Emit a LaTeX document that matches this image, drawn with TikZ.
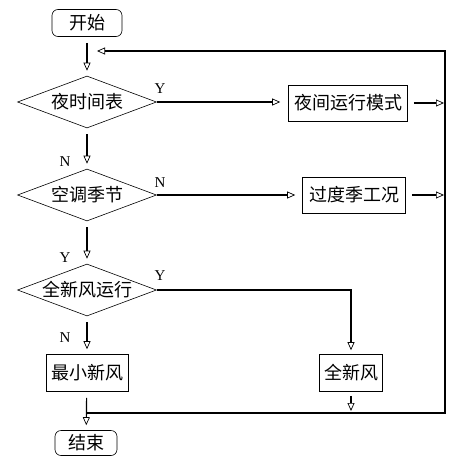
\documentclass[tikz,border=0pt]{standalone}
\usepackage{fontspec}
\setmainfont{Liberation Serif}
\newfontfamily\cjk{Noto Sans CJK SC}
\usetikzlibrary{shapes.geometric,arrows.meta,positioning}
\tikzset
{
    startstop/.style = {rectangle, rounded corners=6pt, draw=black, line width=0.6pt, align=center, font=\cjk\fontsize{18}{20}\selectfont},
    process/.style = {rectangle, draw=black, line width=0.6pt, align=center, minimum height=36pt, font=\cjk\fontsize{18}{20}\selectfont},
    decision/.style = {diamond, aspect=2.67, draw=black, line width=0.6pt, minimum width=139pt, minimum height=52pt, inner sep=0pt, font=\cjk\fontsize{18}{20}\selectfont},
    yn/.style = {font=\fontsize{15}{17}\selectfont},
    flow/.style = {line width=1.2pt, -{Triangle[open, line width=0.7pt, length=8pt, width=7pt]}, shorten <=6pt, shorten >=5pt}
}

\begin{document}
\begin{tikzpicture}[x=1pt, y=-1pt]
		\useasboundingbox (0,0) rectangle (468,466);
		% nodes
		\node[startstop, minimum width=70pt, minimum height=27pt] (start) at (87,23) {开始};
		\node[decision] (night) at (87,102) {夜时间表};
		\node[process, minimum width=119pt] (nightmode) at (348,103) {夜间运行模式};
		\node[decision] (season) at (87,195) {空调季节};
		\node[process, minimum width=103pt] (transit) at (354,195) {过度季工况};
		\node[decision] (fresh) at (87,290) {全新风运行};
		\node[process, minimum width=82pt, minimum height=37pt] (minfresh) at (87,373) {最小新风};
		\node[process, minimum width=63pt, minimum height=37pt] (allfresh) at (351,373) {全新风};
		\node[startstop, minimum width=62pt, minimum height=25pt] (stop) at (86,443) {结束};
		% labels
		\node[yn] (nightY) at (160,89) {Y};
		\node[yn] (seasonN1) at (65,162) {N};
		\node[yn] (seasonN2) at (160,183) {N};
		\node[yn] (freshY1) at (65,258) {Y};
		\node[yn] (freshY2) at (160,276) {Y};
		\node[yn] (freshN) at (65,338) {N};
		% loop corners
		\coordinate (tl) at (87,51);
		\coordinate (tr) at (445,51);
		\coordinate (br) at (445,413);
		\coordinate (bl) at (87,413);
		% connectors
		\draw[flow] (start) -- (night);
		\draw[flow] (night) -- (season);
		\draw[flow] (season) -- (fresh);
		\draw[flow] (fresh) -- (minfresh);
		\draw[flow] (minfresh) -- (stop);
		\draw[flow, shorten <=0pt, shorten >=8pt] (night.east) -- (nightmode.west |- night.east);
		\draw[flow, shorten <=0pt, shorten >=7pt] (season.east) -- (transit.west |- season.east);
		\draw[flow, shorten <=0pt, shorten >=4pt] (fresh.east) -| (allfresh.north);
		\draw[flow, shorten >=1pt] (nightmode.east) -- (nightmode.east -| tr);
		\draw[flow, shorten >=1pt] (transit.east) -- (transit.east -| tr);
		\draw[flow, shorten <=4pt, shorten >=2pt] (allfresh.south) -- (allfresh.south |- br);
		\draw[flow, shorten <=0pt, shorten >=10pt] (bl) -- (br) -- (tr) -- (tl);
\end{tikzpicture}
\end{document}
